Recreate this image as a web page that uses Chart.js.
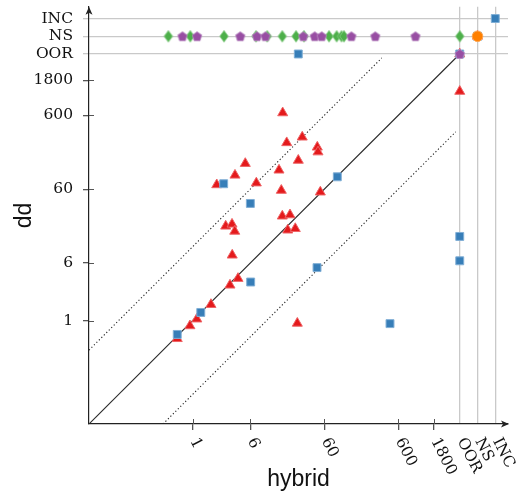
<!DOCTYPE html>
<html>
<head>
<meta charset="utf-8">
<script src="https://cdn.jsdelivr.net/npm/chart.js@4/dist/chart.umd.min.js"></script>
<style>
  body { margin: 0; background: #fff; }
</style>
</head>
<body>
<canvas id="chart" width="520" height="498"></canvas>
<script>
// numeric ticks on both axes
const tickValues = [1, 6, 60, 600, 1800];
const tickLabels = ['1', '6', '60', '600', '1800'];
// special outcome rows/columns above the numeric range
const specialLabels = ['OOR', 'NS', 'INC'];

// series (x = hybrid, y = dd); strings are the special outcomes
const redX = [16.5, 18.7, 30.3, 48.4, 49.5, 26.8, 5.15, 14.7, 3.74, 2.12, 7.26, 15.8, 53.2, 16.3, 20.7,
  2.8, 3.41, 3.71, 19.3, 24.4, 3.43, 4.11, 3.2, 1.77, 1.14, 0.92, 0.62, 26, 'OOR', 'OOR', 'NS'];
const redY = [650, 256, 305, 223, 192, 148, 134, 109, 93, 69, 73, 58, 55, 26, 27,
  19, 20.2, 16.2, 16.8, 17.6, 7.7, 3.72, 3.02, 1.65, 1.05, 0.85, 0.57, 0.92, 1270, 'OOR', 'NS'];

const blueX = [2.63, 6.03, 90.2, 6.09, 48, 1.29, 0.62, 465, 'OOR', 'OOR', 26.8, 'OOR', 'NS', 'INC'];
const blueY = [71.3, 38.6, 88.5, 3.33, 5.22, 1.29, 0.65, 0.91, 13.8, 6.45, 'OOR', 'OOR', 'NS', 'INC'];

const greenX = [0.47, 0.93, 2.66, 7.19, 10.2, 16.3, 25, 32, 69.7, 88.5, 103, 111, 'OOR'];
const greenY = ['NS', 'NS', 'NS', 'NS', 'NS', 'NS', 'NS', 'NS', 'NS', 'NS', 'NS', 'NS', 'NS'];

const purpleX = [0.73, 1.15, 4.41, 7.42, 9.66, 31.3, 44.7, 55.6, 140, 294, 1028, 'OOR'];
const purpleY = ['NS', 'NS', 'NS', 'NS', 'NS', 'NS', 'NS', 'NS', 'NS', 'NS', 'NS', 'OOR'];

const orangeX = ['NS'];
const orangeY = ['NS'];

// where the special outcomes sit on the log axes
const SPECIAL = { OOR: 4074, NS: 7080, INC: 12300 };
const specialVals = specialLabels.map(l => SPECIAL[l]);
const axisMin = Math.pow(10, -1.4);
const xMax = Math.pow(10, 4.262);
const yMax = Math.pow(10, 4.249);

const toVal = v => (typeof v === 'string' ? SPECIAL[v] : v);
const pts = (xs, ys) => xs.map((x, i) => ({ x: toVal(x), y: toVal(ys[i]) }));
const isSpecial = t => t && t.value > 3000;

const gridGray = '#c9c9c9';
const tickDark = '#555';
const serif = 'DejaVu Serif';

function shape(kind, fill, stroke) {
    const c = document.createElement('canvas');
    c.width = 14; c.height = 14;
    const g = c.getContext('2d');
    g.beginPath();
    if (kind === 'pentagon') {
        for (let k = 0; k < 5; k++) {
            const a = -Math.PI / 2 + k * 2 * Math.PI / 5;
            const px = 7 + 5 * Math.cos(a), py = 7.4 + 5 * Math.sin(a);
            k ? g.lineTo(px, py) : g.moveTo(px, py);
        }
    } else {
        g.moveTo(7, 1.2); g.lineTo(11.3, 7); g.lineTo(7, 12.8); g.lineTo(2.7, 7);
    }
    g.closePath();
    g.fillStyle = fill; g.fill();
    g.strokeStyle = stroke; g.lineWidth = 0.8; g.stroke();
    return c;
}

const lowEnd = 3600; // end of the guide lines

const axisDecor = {
    id: 'axisDecor',
    beforeDatasetsDraw(chart) {
        const { ctx, chartArea: a, scales } = chart;
        ctx.save();
        ctx.strokeStyle = tickDark;
        ctx.lineWidth = 1;
        tickValues.forEach(v => {
            const px = Math.round(scales.x.getPixelForValue(v)) + 0.5;
            ctx.beginPath(); ctx.moveTo(px, a.bottom); ctx.lineTo(px, a.bottom - 5); ctx.stroke();
            const py = Math.round(scales.y.getPixelForValue(v)) + 0.5;
            ctx.beginPath(); ctx.moveTo(a.left, py); ctx.lineTo(a.left + 5, py); ctx.stroke();
        });
        ctx.restore();
    },
    afterDraw(chart) {
        const { ctx, chartArea: a, scales } = chart;
        ctx.save();
        ctx.fillStyle = '#222';
        // y arrow
        ctx.beginPath();
        ctx.moveTo(a.left, a.top);
        ctx.lineTo(a.left + 3.5, a.top + 8);
        ctx.lineTo(a.left, a.top + 6);
        ctx.lineTo(a.left - 3.5, a.top + 8);
        ctx.closePath(); ctx.fill();
        // x arrow
        ctx.beginPath();
        ctx.moveTo(a.right + 1, a.bottom);
        ctx.lineTo(a.right - 7, a.bottom - 3.5);
        ctx.lineTo(a.right - 5, a.bottom);
        ctx.lineTo(a.right - 7, a.bottom + 3.5);
        ctx.closePath(); ctx.fill();
        // rotated x labels
        ctx.fillStyle = '#111';
        ctx.font = '15.5px "' + serif + '"';
        ctx.textAlign = 'left';
        ctx.textBaseline = 'middle';
        const labs = tickLabels.concat(specialLabels);
        tickValues.concat(specialVals).forEach((v, i) => {
            const px = scales.x.getPixelForValue(v);
            ctx.save();
            ctx.translate(px + 1, a.bottom + 15);
            ctx.rotate(63 * Math.PI / 180);
            ctx.fillText(labs[i], 0, 0);
            ctx.restore();
        });
        ctx.restore();
    }
};

const ctx = document.getElementById('chart').getContext('2d');
new Chart(ctx, {
    type: 'scatter',
    data: {
        datasets: [
            { label: 'orange', data: pts(orangeX, orangeY), pointStyle: 'circle', pointRadius: 5.3,
              backgroundColor: '#ff7f00', borderColor: '#ffa54d', borderWidth: 1 },
            { label: 'purple', data: pts(purpleX, purpleY),
              pointStyle: shape('pentagon', '#984ea3', '#b98bc1') },
            { label: 'green', data: pts(greenX, greenY),
              pointStyle: shape('diamond', '#4daf4a', '#87cb85') },
            { label: 'blue', data: pts(blueX, blueY), pointStyle: 'rect', pointRadius: 5.6,
              backgroundColor: '#377eb8', borderColor: '#80afd6', borderWidth: 1 },
            { label: 'red', data: pts(redX, redY), pointStyle: 'triangle', pointRadius: 5.8,
              backgroundColor: '#e41a1c', borderColor: '#ee6466', borderWidth: 1 },
            { label: 'diag', data: [{ x: axisMin, y: axisMin }, { x: SPECIAL.OOR, y: SPECIAL.OOR }],
              showLine: true, pointRadius: 0, borderColor: '#2a2a2a', borderWidth: 1.1 },
            { label: 'upper', data: [{ x: axisMin, y: axisMin * 10 }, { x: lowEnd / 10, y: lowEnd }],
              showLine: true, pointRadius: 0, borderColor: '#222', borderWidth: 1.1, borderDash: [1.2, 2.3] },
            { label: 'lower', data: [{ x: axisMin * 10, y: axisMin }, { x: lowEnd, y: lowEnd / 10 }],
              showLine: true, pointRadius: 0, borderColor: '#222', borderWidth: 1.1, borderDash: [1.2, 2.3] }
        ]
    },
    options: {
        responsive: false,
        animation: false,
        layout: { padding: { left: 0, right: 12, top: 6, bottom: 0 } },
        plugins: { legend: { display: false }, tooltip: { enabled: false } },
        scales: {
            x: {
                type: 'logarithmic',
                min: axisMin,
                max: xMax,
                afterBuildTicks: s => { s.ticks = tickValues.concat(specialVals).map(v => ({ value: v })); },
                afterFit: s => { s.height = 74; s.paddingLeft = 0; s.paddingRight = 0; },
                ticks: { display: false, autoSkip: false },
                grid: {
                    color: c => (isSpecial(c.tick) ? gridGray : 'transparent'),
                    tickColor: c => (isSpecial(c.tick) ? 'transparent' : tickDark),
                    tickLength: 6,
                    lineWidth: 1.3
                },
                border: { color: '#222', width: 1.2 },
                title: { display: true, text: 'hybrid', color: '#111',
                         font: { family: 'Liberation Sans', size: 23 }, padding: { top: 0, bottom: 5 } }
            },
            y: {
                type: 'logarithmic',
                min: axisMin,
                max: yMax,
                afterBuildTicks: s => { s.ticks = tickValues.concat(specialVals).map(v => ({ value: v })); },
                afterFit: s => { s.width = 89; s.paddingTop = 0; s.paddingBottom = 0; },
                ticks: {
                    autoSkip: false,
                    padding: 10,
                    color: '#111',
                    font: { family: serif, size: 15.5 },
                    callback: (v, i) => tickLabels.concat(specialLabels)[i]
                },
                grid: {
                    color: c => (isSpecial(c.tick) ? gridGray : 'transparent'),
                    tickColor: c => (isSpecial(c.tick) ? gridGray : tickDark),
                    tickLength: 6,
                    lineWidth: 1.3
                },
                border: { color: '#222', width: 1.2 },
                title: { display: true, text: 'dd', color: '#111',
                         font: { family: 'Liberation Sans', size: 23 }, padding: { top: 11, bottom: 0 } }
            }
        }
    },
    plugins: [axisDecor]
});
</script>
</body>
</html>
